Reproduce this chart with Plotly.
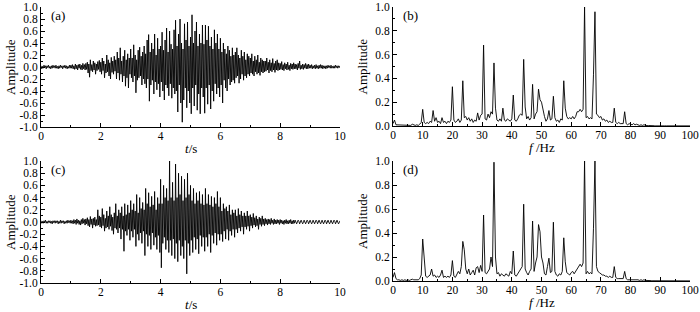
import numpy as np
import plotly.graph_objects as go

# ---------------- data ----------------
# time signals sampled every 0.025 s from 0 to 10 s (one row = 0.5 s)
dt = 0.025
signal_a = [
    0.02, -0.03, 0.01, -0.02, 0.03, -0.01, 0.02, -0.03, 0.02, -0.01, 0.03, -0.02, 0.01, -0.03, 0.02, -0.02, 0.03, -0.01, 0.02, -0.02,
    0.03, -0.02, 0.01, -0.03, 0.02, -0.02, 0.03, -0.01, 0.02, -0.03, 0.02, -0.01, 0.03, -0.02, 0.02, -0.03, 0.01, -0.02, 0.03, -0.02,
    0.03, -0.02, 0.04, -0.03, 0.02, -0.04, 0.05, -0.03, 0.03, -0.05, 0.04, -0.02, 0.05, -0.04, 0.03, -0.05, 0.06, -0.03, 0.04, -0.05,
    0.06, -0.04, 0.08, -0.10, 0.05, -0.17, 0.12, -0.06, 0.04, -0.08, 0.10, -0.05, 0.07, -0.12, 0.05, -0.06, 0.09, -0.04, 0.11, -0.08,
    0.08, -0.12, 0.15, -0.06, 0.10, -0.18, 0.05, -0.10, 0.20, -0.08, 0.12, -0.15, 0.07, -0.20, 0.16, -0.09, 0.10, -0.12, 0.18, -0.07,
    0.12, -0.20, 0.25, -0.10, 0.15, -0.22, 0.32, -0.12, 0.10, -0.25, 0.18, -0.15, 0.28, -0.32, 0.12, -0.18, 0.22, -0.35, 0.15, -0.12,
    0.30, -0.18, 0.15, -0.25, 0.37, -0.15, 0.20, -0.43, 0.12, -0.22, 0.28, -0.18, 0.33, -0.15, 0.18, -0.30, 0.25, -0.20, 0.35, -0.28,
    0.22, -0.35, 0.45, -0.20, 0.54, -0.57, 0.25, -0.30, 0.40, -0.22, 0.30, -0.45, 0.55, -0.25, 0.20, -0.38, 0.48, -0.28, 0.30, -0.50,
    0.35, -0.25, 0.58, -0.40, 0.28, -0.55, 0.45, -0.30, 0.65, -0.35, 0.25, -0.48, 0.60, -0.28, 0.38, -0.52, 0.30, -0.35, 0.62, -0.45,
    0.78, -0.40, 0.35, -0.75, 0.55, -0.30, 0.80, -0.60, 0.40, -0.92, 0.30, -0.55, 0.72, -0.35, 0.45, -0.68, 0.75, -0.40, 0.35, -0.60,
    0.50, -0.78, 0.87, -0.35, 0.40, -0.65, 0.60, -0.30, 0.75, -0.72, 0.35, -0.45, 0.55, -0.78, 0.40, -0.35, 0.70, -0.50, 0.38, -0.77,
    0.70, -0.35, 0.45, -0.62, 0.68, -0.30, 0.35, -0.70, 0.50, -0.40, 0.30, -0.57, 0.62, -0.28, 0.40, -0.45, 0.55, -0.35, 0.30, -0.50,
    0.48, -0.30, 0.25, -0.60, 0.40, -0.22, 0.30, -0.35, 0.22, -0.40, 0.35, -0.20, 0.28, -0.30, 0.18, -0.25, 0.32, -0.22, 0.20, -0.27,
    0.25, -0.18, 0.32, -0.15, 0.20, -0.27, 0.15, -0.20, 0.28, -0.12, 0.18, -0.22, 0.25, -0.15, 0.12, -0.18, 0.22, -0.12, 0.18, -0.15,
    0.15, -0.10, 0.22, -0.12, 0.10, -0.15, 0.18, -0.08, 0.12, -0.12, 0.20, -0.10, 0.08, -0.14, 0.15, -0.08, 0.12, -0.10, 0.10, -0.08,
    0.10, -0.07, 0.15, -0.05, 0.08, -0.10, 0.12, -0.06, 0.07, -0.08, 0.14, -0.05, 0.06, -0.09, 0.10, -0.05, 0.12, -0.06, 0.07, -0.05,
    0.06, -0.04, 0.09, -0.05, 0.04, -0.06, 0.07, -0.03, 0.05, -0.05, 0.08, -0.04, 0.03, -0.06, 0.06, -0.03, 0.05, -0.04, 0.07, -0.03,
    0.05, -0.03, 0.04, -0.05, 0.06, -0.02, 0.10, -0.04, 0.03, -0.03, 0.05, -0.04, 0.04, -0.02, 0.06, -0.03, 0.04, -0.03, 0.05, -0.02,
    0.03, -0.02, 0.04, -0.03, 0.02, -0.02, 0.03, -0.03, 0.04, -0.02, 0.02, -0.03, 0.03, -0.02, 0.04, -0.02, 0.03, -0.03, 0.02, -0.02,
    0.02, -0.03, 0.02, -0.02, 0.03, -0.01, 0.02, -0.02, 0.03, -0.02, 0.01, -0.02, 0.02, -0.02, 0.03, -0.01, 0.02, -0.02, 0.02, -0.01,
    0.02,
]
signal_c = [
    0.02, -0.02, 0.01, -0.02, 0.02, -0.01, 0.03, -0.02, 0.01, -0.02, 0.02, -0.01, 0.02, -0.02, 0.01, -0.03, 0.02, -0.01, 0.02, -0.02,
    0.02, -0.01, 0.02, -0.03, 0.01, -0.02, 0.03, -0.02, 0.02, -0.01, 0.02, -0.03, 0.01, -0.02, 0.02, -0.02, 0.03, -0.01, 0.02, -0.02,
    0.03, -0.02, 0.02, -0.03, 0.04, -0.02, 0.03, -0.04, 0.05, -0.02, 0.03, -0.04, 0.02, -0.05, 0.04, -0.03, 0.06, -0.02, 0.04, -0.05,
    0.05, -0.03, 0.07, -0.06, 0.04, -0.08, 0.09, -0.04, 0.05, -0.10, 0.06, -0.05, 0.08, -0.07, 0.04, -0.06, 0.20, -0.05, 0.10, -0.08,
    0.08, -0.10, 0.22, -0.06, 0.12, -0.15, 0.06, -0.10, 0.18, -0.08, 0.10, -0.12, 0.25, -0.07, 0.12, -0.14, 0.08, -0.20, 0.15, -0.10,
    0.30, -0.12, 0.10, -0.18, 0.20, -0.10, 0.15, -0.28, 0.25, -0.12, 0.10, -0.48, 0.30, -0.15, 0.12, -0.22, 0.28, -0.12, 0.15, -0.30,
    0.35, -0.15, 0.20, -0.25, 0.30, -0.12, 0.18, -0.40, 0.45, -0.20, 0.15, -0.30, 0.40, -0.18, 0.22, -0.35, 0.32, -0.15, 0.20, -0.55,
    0.55, -0.20, 0.30, -0.40, 0.48, -0.22, 0.25, -0.45, 0.42, -0.18, 0.28, -0.38, 0.50, -0.25, 0.20, -0.45, 0.40, -0.22, 0.30, -0.50,
    0.70, -0.75, 0.30, -0.35, 0.60, -0.25, 0.40, -0.45, 0.55, -0.30, 0.35, -0.50, 1.00, -0.30, 0.40, -0.55, 0.65, -0.28, 0.35, -0.60,
    0.95, -0.35, 0.40, -0.65, 0.80, -0.30, 0.45, -0.55, 0.75, -0.40, 0.35, -0.60, 0.70, -0.30, 0.40, -0.85, 0.80, -0.35, 0.45, -0.55,
    0.60, -0.30, 0.35, -0.50, 0.55, -0.25, 0.30, -0.45, 0.48, -0.28, 0.35, -0.52, 0.50, -0.22, 0.30, -0.40, 0.45, -0.25, 0.28, -0.48,
    0.55, -0.25, 0.30, -0.40, 0.45, -0.20, 0.28, -0.50, 0.42, -0.22, 0.25, -0.35, 0.40, -0.18, 0.30, -0.38, 0.50, -0.20, 0.25, -0.30,
    0.40, -0.20, 0.18, -0.32, 0.30, -0.15, 0.22, -0.28, 0.25, -0.12, 0.18, -0.30, 0.28, -0.15, 0.12, -0.22, 0.20, -0.12, 0.15, -0.25,
    0.20, -0.12, 0.10, -0.18, 0.22, -0.10, 0.12, -0.15, 0.18, -0.08, 0.10, -0.20, 0.15, -0.08, 0.10, -0.12, 0.18, -0.07, 0.10, -0.15,
    0.12, -0.06, 0.08, -0.10, 0.14, -0.05, 0.07, -0.08, 0.10, -0.06, 0.05, -0.12, 0.08, -0.04, 0.06, -0.07, 0.10, -0.04, 0.05, -0.06,
    0.06, -0.03, 0.04, -0.05, 0.05, -0.03, 0.04, -0.04, 0.06, -0.02, 0.03, -0.04, 0.05, -0.03, 0.03, -0.03, 0.04, -0.02, 0.03, -0.04,
    0.04, -0.02, 0.03, -0.03, 0.02, -0.04, 0.03, -0.02, 0.04, -0.03, 0.02, -0.03, 0.03, -0.02, 0.04, -0.03, 0.02, -0.03, 0.03, -0.02,
    0.03, 0.00, -0.03, 0.00, 0.03, 0.01, -0.03, 0.00, 0.03, 0.00, -0.03, -0.01, 0.03, 0.00, -0.03, 0.00, 0.03, 0.01, -0.03, 0.00,
    0.03, 0.00, -0.03, -0.01, 0.03, 0.00, -0.03, 0.00, 0.03, 0.01, -0.03, 0.00, 0.03, 0.00, -0.03, -0.01, 0.03, 0.00, -0.03, 0.00,
    0.03, 0.01, -0.03, 0.00, 0.03, 0.00, -0.03, -0.01, 0.03, 0.00, -0.03, 0.00, 0.03, 0.01, -0.03, 0.00, 0.03, 0.00, -0.03, -0.01,
    0.02,
]

# amplitude spectra sampled every 0.5 Hz from 0 to 100 Hz (one row = 5 Hz)
df = 0.5
spectrum_b = [
    0.02, 0.05, 0.01, 0.01, 0.005, 0.01, 0.005, 0.01, 0.005, 0.01,
    0.005, 0.01, 0.005, 0.015, 0.01, 0.005, 0.01, 0.005, 0.015, 0.03,
    0.14, 0.03, 0.02, 0.03, 0.02, 0.04, 0.03, 0.13, 0.04, 0.07,
    0.03, 0.04, 0.02, 0.07, 0.03, 0.04, 0.02, 0.04, 0.03, 0.05,
    0.33, 0.05, 0.03, 0.04, 0.06, 0.03, 0.05, 0.38, 0.07, 0.08,
    0.05, 0.07, 0.04, 0.06, 0.03, 0.05, 0.04, 0.11, 0.05, 0.09,
    0.10, 0.68, 0.06, 0.05, 0.10, 0.07, 0.12, 0.10, 0.53, 0.15,
    0.05, 0.04, 0.06, 0.04, 0.15, 0.05, 0.04, 0.06, 0.05, 0.04,
    0.06, 0.26, 0.05, 0.04, 0.06, 0.09, 0.10, 0.09, 0.56, 0.16,
    0.06, 0.08, 0.05, 0.07, 0.35, 0.06, 0.10, 0.12, 0.31, 0.22,
    0.20, 0.13, 0.08, 0.04, 0.06, 0.13, 0.05, 0.06, 0.25, 0.07,
    0.04, 0.05, 0.03, 0.06, 0.05, 0.38, 0.15, 0.08, 0.06, 0.07,
    0.06, 0.08, 0.06, 0.08, 0.12, 0.12, 0.14, 0.12, 0.14, 1.00,
    0.07, 0.08, 0.06, 0.07, 0.06, 0.43, 0.96, 0.10, 0.09, 0.07,
    0.08, 0.05, 0.06, 0.04, 0.05, 0.03, 0.04, 0.03, 0.03, 0.15,
    0.03, 0.02, 0.03, 0.02, 0.02, 0.02, 0.12, 0.02, 0.01, 0.02,
    0.015, 0.01, 0.02, 0.01, 0.015, 0.01, 0.005, 0.01, 0.005, 0.01,
    0.005, 0.003, 0.004, 0.002, 0.003, 0.002, 0.002, 0.001, 0.002, 0.001,
    0.001, 0.001, 0.002, 0.001, 0.001, 0.001, 0.001, 0.001, 0.001, 0.001,
    0.001, 0.001, 0.001, 0.001, 0.001, 0.001, 0.001, 0.001, 0.001, 0.001,
    0.001,
]
spectrum_d = [
    0.03, 0.07, 0.02, 0.01, 0.01, 0.005, 0.01, 0.005, 0.01, 0.005,
    0.01, 0.005, 0.01, 0.015, 0.01, 0.01, 0.005, 0.01, 0.02, 0.05,
    0.35, 0.15, 0.04, 0.03, 0.04, 0.05, 0.10, 0.04, 0.05, 0.03,
    0.04, 0.03, 0.05, 0.09, 0.03, 0.04, 0.03, 0.04, 0.03, 0.05,
    0.17, 0.04, 0.03, 0.05, 0.08, 0.06, 0.12, 0.33, 0.26, 0.10,
    0.06, 0.10, 0.05, 0.07, 0.09, 0.05, 0.11, 0.12, 0.07, 0.13,
    0.08, 0.55, 0.07, 0.06, 0.08, 0.10, 0.20, 0.12, 0.99, 0.20,
    0.06, 0.07, 0.04, 0.06, 0.05, 0.04, 0.06, 0.05, 0.04, 0.08,
    0.06, 0.25, 0.05, 0.04, 0.06, 0.07, 0.10, 0.12, 0.64, 0.10,
    0.07, 0.05, 0.08, 0.10, 0.50, 0.08, 0.15, 0.20, 0.47, 0.41,
    0.20, 0.15, 0.06, 0.05, 0.12, 0.19, 0.07, 0.08, 0.49, 0.08,
    0.05, 0.04, 0.06, 0.05, 0.08, 0.36, 0.16, 0.07, 0.06, 0.05,
    0.07, 0.08, 0.06, 0.08, 0.10, 0.12, 0.14, 0.12, 0.15, 1.00,
    0.06, 0.08, 0.06, 0.07, 0.06, 0.44, 1.00, 0.12, 0.08, 0.07,
    0.06, 0.05, 0.05, 0.04, 0.04, 0.03, 0.04, 0.03, 0.03, 0.12,
    0.03, 0.02, 0.02, 0.02, 0.02, 0.02, 0.08, 0.02, 0.01, 0.01,
    0.015, 0.01, 0.01, 0.015, 0.01, 0.01, 0.005, 0.01, 0.005, 0.01,
    0.005, 0.003, 0.004, 0.002, 0.003, 0.002, 0.002, 0.001, 0.002, 0.001,
    0.001, 0.001, 0.002, 0.001, 0.001, 0.001, 0.001, 0.001, 0.001, 0.001,
    0.001, 0.001, 0.001, 0.001, 0.001, 0.001, 0.001, 0.001, 0.001, 0.001,
    0.001,
]

panel_labels = ["(a)", "(b)", "(c)", "(d)"]
time_ticks = [0, 2, 4, 6, 8, 10]
freq_ticks = [0, 10, 20, 30, 40, 50, 60, 70, 80, 90, 100]
amp_ticks_signed = [-1.0, -0.8, -0.6, -0.4, -0.2, 0.0, 0.2, 0.4, 0.6, 0.8, 1.0]
amp_ticks_signed_text = ["-1.0", "-0.8", "-0.6", "-0.4", "-0.2", "0.0",
                         "0.2", "0.4", "0.6", "0.8", "1.0"]
amp_ticks_pos = [0.0, 0.2, 0.4, 0.6, 0.8, 1.0]
amp_ticks_pos_text = ["0.0", "0.2", "0.4", "0.6", "0.8", "1.0"]

# ---------------- figure ----------------
W, H = 700, 312
t = np.arange(len(signal_a)) * dt
f = np.arange(len(spectrum_b)) * df

FONT = "Liberation Serif, Times New Roman, serif"
LINE = dict(color="black", width=0.9)

fig = go.Figure()
fig.add_trace(go.Scatter(x=t, y=signal_a, mode="lines", line=LINE, xaxis="x", yaxis="y", cliponaxis=False))
fig.add_trace(go.Scatter(x=f, y=spectrum_b, mode="lines", line=LINE, xaxis="x2", yaxis="y2", cliponaxis=False))
fig.add_trace(go.Scatter(x=t, y=signal_c, mode="lines", line=LINE, xaxis="x3", yaxis="y3", cliponaxis=False))
fig.add_trace(go.Scatter(x=f, y=spectrum_d, mode="lines", line=LINE, xaxis="x4", yaxis="y4", cliponaxis=False))


def px_x(p):
    return p / W


def px_y(p):
    return 1 - p / H


common = dict(
    showline=True, linecolor="black", linewidth=1, mirror=False,
    showgrid=False, zeroline=False, ticks="inside", ticklen=4,
    tickwidth=1, tickcolor="black",
    tickfont=dict(family=FONT, size=11.5, color="black"),
)

# panel geometry in pixels: (left, right, top, bottom)
boxes = [(41, 340, 7, 127), (393, 690, 7, 126), (41, 340, 161, 283), (393, 690, 161, 281)]

layout = dict(
    width=W, height=H, margin=dict(l=0, r=0, t=0, b=0, autoexpand=False),
    paper_bgcolor="white", plot_bgcolor="white", showlegend=False,
)
for i, (l, r, tp, bt) in enumerate(boxes):
    n = "" if i == 0 else str(i + 1)
    is_time = i in (0, 2)
    xa = dict(common, domain=[px_x(l), px_x(r)], anchor="y" + n,
              range=[0, 10] if is_time else [0, 100],
              tickvals=time_ticks if is_time else freq_ticks,
              ticklabelstandoff=-2,
              minor=dict(dtick=1 if is_time else 5, ticks="inside", ticklen=2,
                         tickcolor="black", tickwidth=1))
    ya = dict(common, domain=[px_y(bt), px_y(tp)], anchor="x" + n,
              range=[-1, 1] if is_time else [0, 1],
              tickvals=amp_ticks_signed if is_time else amp_ticks_pos,
              ticktext=amp_ticks_signed_text if is_time else amp_ticks_pos_text,
              minor=dict(dtick=0.1, ticks="inside", ticklen=2,
                         tickcolor="black", tickwidth=1))
    layout["xaxis" + n] = xa
    layout["yaxis" + n] = ya

annotations = []
for i, (l, r, tp, bt) in enumerate(boxes):
    is_time = i in (0, 2)
    annotations.append(dict(
        x=px_x(l + 8), y=px_y(tp + 8), xref="paper", yref="paper",
        text=panel_labels[i], showarrow=False, xanchor="left", yanchor="middle",
        font=dict(family=FONT, size=13, color="black")))
    annotations.append(dict(
        x=px_x((l + r) / 2), y=px_y(bt + 21), xref="paper", yref="paper",
        text="<i>t</i>/s" if is_time else "<i>f</i> /Hz", showarrow=False,
        xanchor="center", yanchor="middle",
        font=dict(family=FONT, size=13, color="black")))
    annotations.append(dict(
        x=px_x(l - 31), y=px_y((tp + bt) / 2), xref="paper", yref="paper",
        text="Amplitude", showarrow=False, textangle=-90,
        xanchor="center", yanchor="middle",
        font=dict(family=FONT, size=13, color="black")))
layout["annotations"] = annotations

fig.update_layout(**layout)
fig.write_html(
    "out.html",
    config={"displayModeBar": False},
    post_script="document.body.style.margin='0';document.body.style.overflow='hidden';",
)
